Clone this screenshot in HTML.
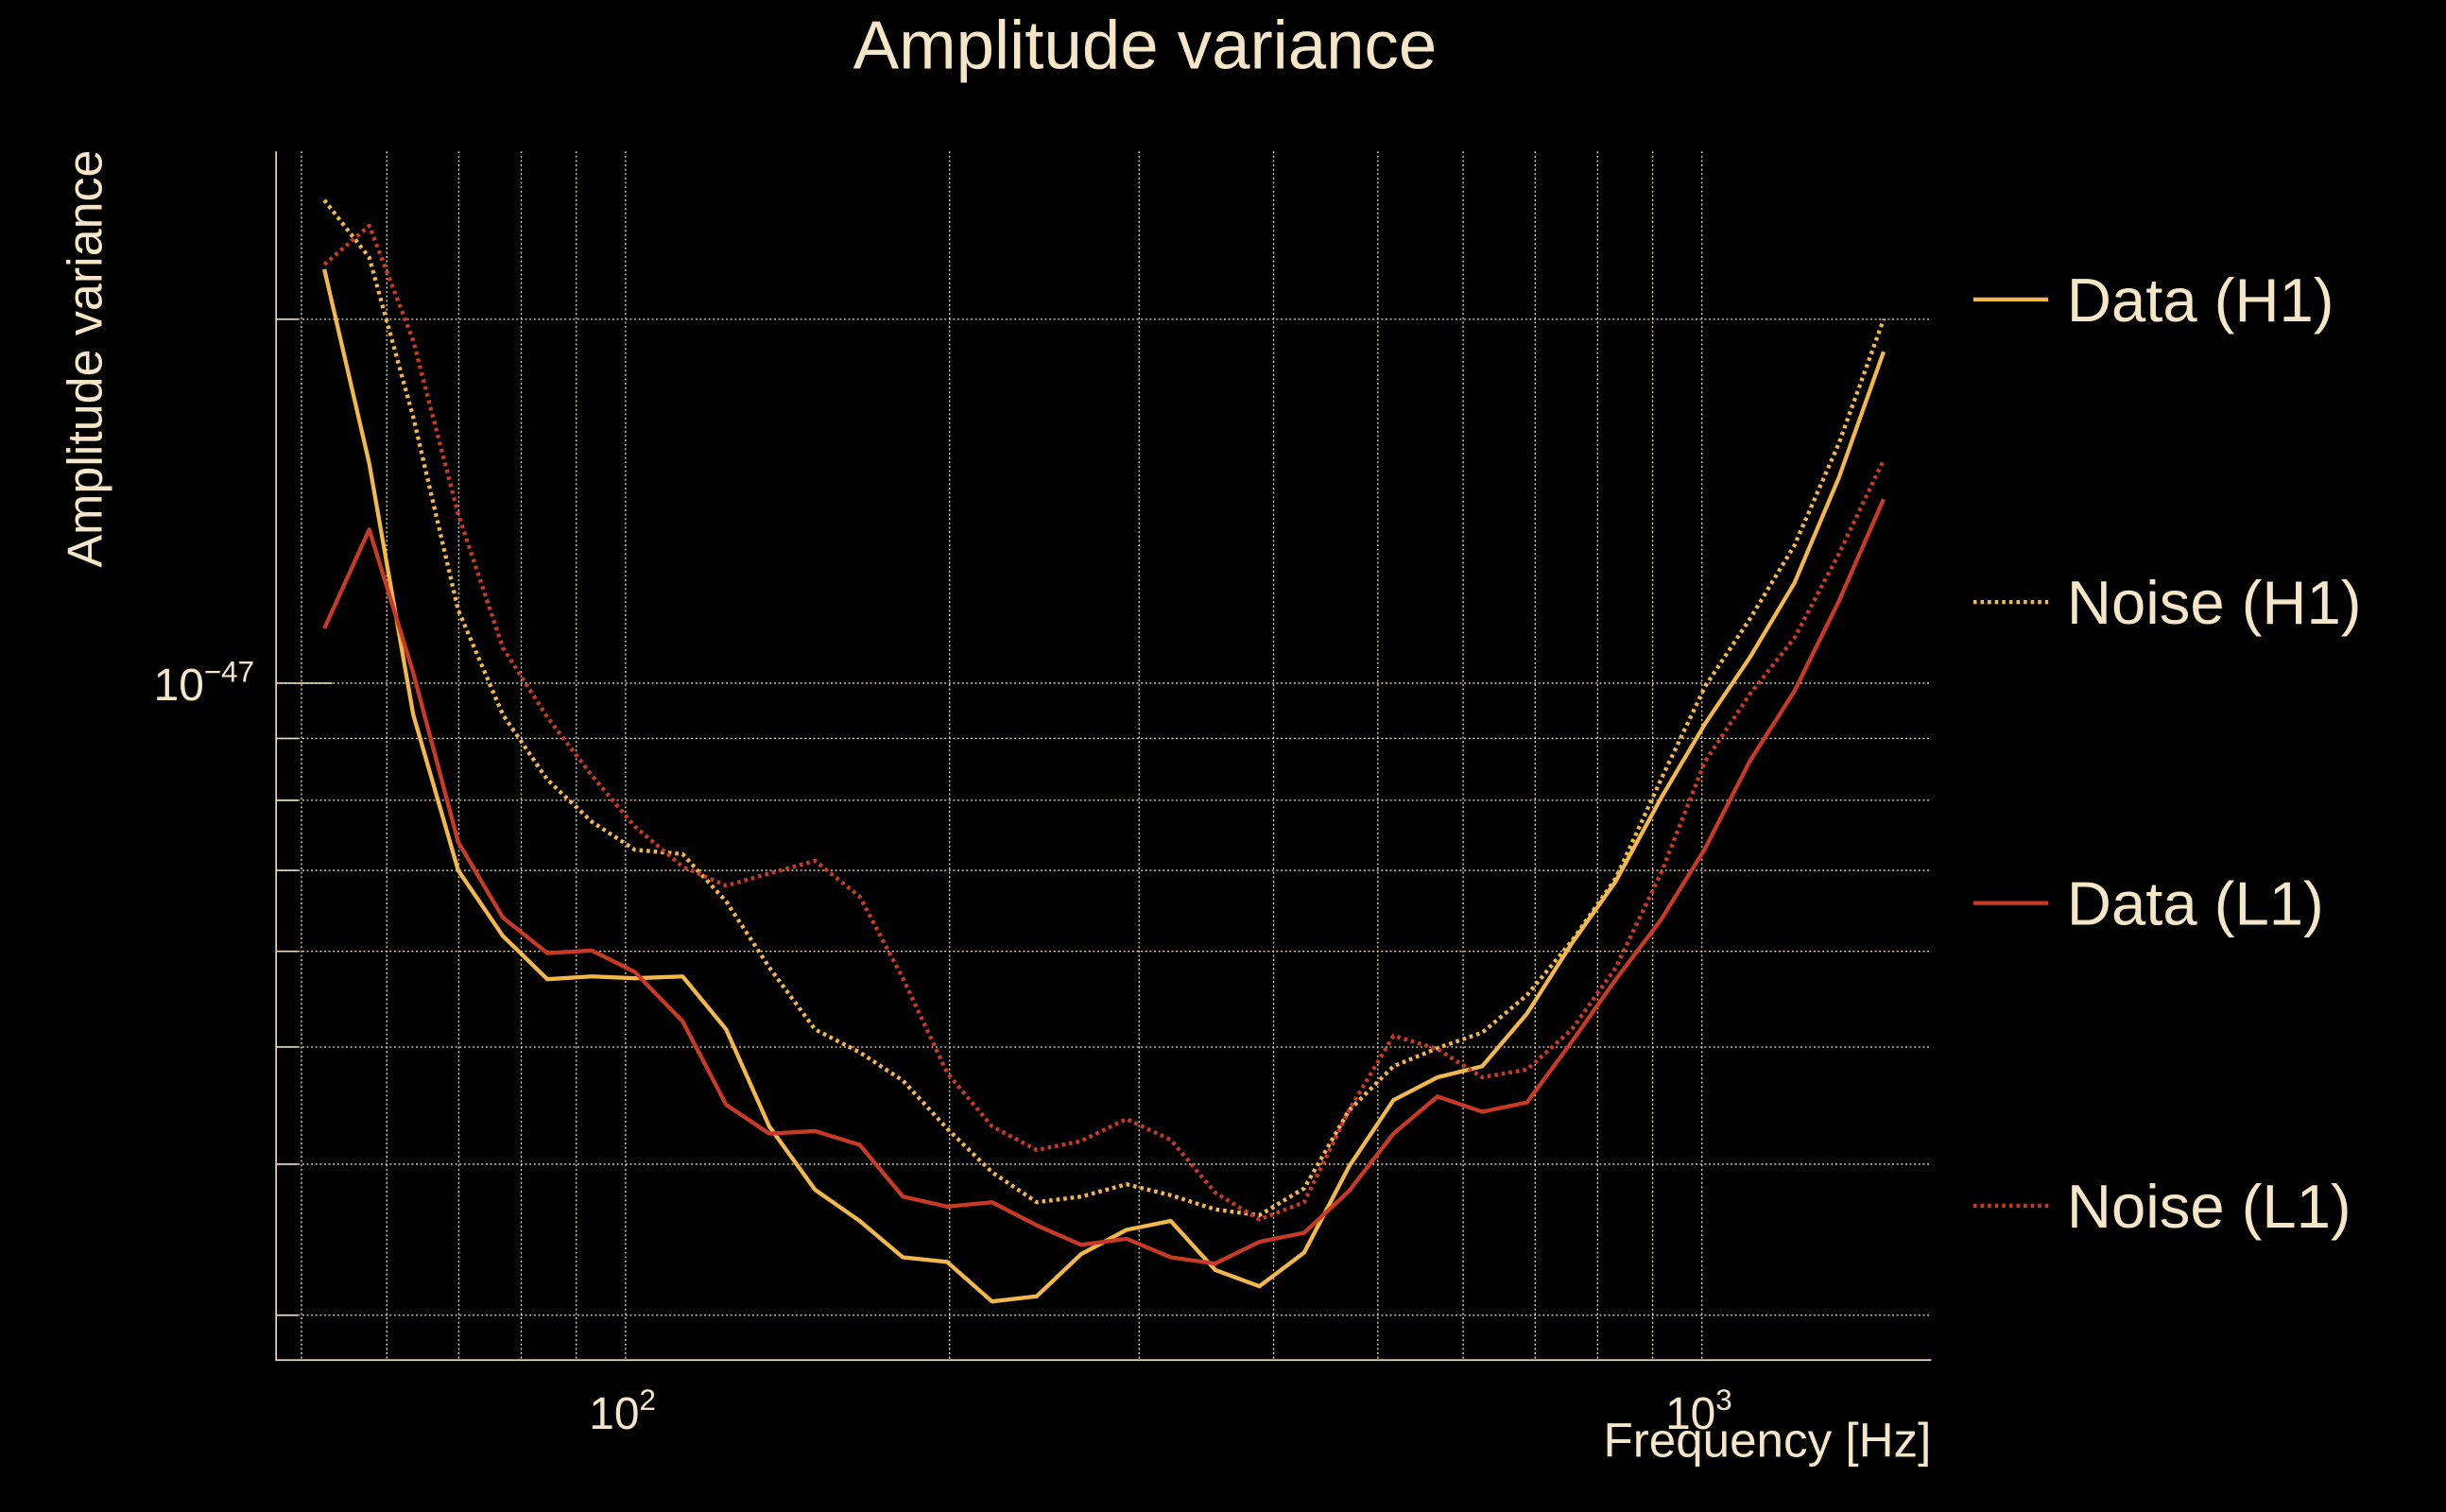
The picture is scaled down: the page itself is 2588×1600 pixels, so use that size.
<!DOCTYPE html>
<html><head><meta charset="utf-8"><style>
html,body{margin:0;padding:0;background:#000;}
svg{display:block;}
text{font-family:"Liberation Sans",sans-serif;fill:#f5e6c8;}
</style></head><body>
<svg id="chart" width="2588" height="1600" viewBox="0 0 1568 969.4" preserveAspectRatio="none" xmlns="http://www.w3.org/2000/svg">
<rect x="0" y="0" width="1568" height="970" fill="#000"/>
<text x="734" y="44" font-size="44" text-anchor="middle">Amplitude variance</text>
<text transform="translate(65,230) rotate(-90)" font-size="31.5" text-anchor="middle">Amplitude variance</text>
<text x="1238" y="934" font-size="31" text-anchor="end">Frequency [Hz]</text>
<g id="grid"></g>
<g id="axes"></g>
<g id="series"></g>
<g id="legend"></g>
</svg>
<script>
const frequencies=[52.5,57.8,63.5,69.9,76.9,84.6,93,102,113,124,136,150,165,181,199,219,241,265,292,321,353,388,427,470,517,568,625,688,757,832,916,1007,1108,1219,1341,1475];
// values in units of 1e-48
const dataH1=[22.0,15.2,9.42,7.00,6.18,5.69,5.72,5.70,5.72,5.17,4.30,3.81,3.59,3.35,3.32,3.08,3.11,3.37,3.53,3.59,3.27,3.17,3.38,3.98,4.52,4.72,4.82,5.33,6.09,6.86,8.03,9.26,10.5,12.1,14.8,18.8];
const noiseH1=[25.1,22.5,16.6,11.5,9.42,8.32,7.68,7.28,7.22,6.60,5.82,5.17,4.95,4.69,4.28,3.94,3.72,3.76,3.85,3.77,3.67,3.63,3.82,4.43,4.82,4.99,5.14,5.52,6.12,6.90,8.32,9.94,11.3,13.0,15.8,20.0];
const dataL1=[11.1,13.4,10.2,7.39,6.40,5.98,6.01,5.77,5.25,4.48,4.24,4.26,4.15,3.76,3.69,3.72,3.56,3.43,3.47,3.35,3.31,3.45,3.51,3.80,4.24,4.55,4.42,4.50,5.05,5.69,6.37,7.30,8.62,9.85,11.7,14.2];
const noiseL1=[22.2,23.9,19.2,13.8,10.7,9.37,8.39,7.61,7.05,6.80,6.96,7.13,6.66,5.70,4.76,4.30,4.11,4.18,4.36,4.19,3.79,3.60,3.72,4.43,5.11,4.98,4.72,4.79,5.17,5.82,6.96,8.62,9.79,10.9,12.8,15.3];
const xGridFreqs=[50,60,70,80,90,100,200,300,400,500,600,700,800,900,1000];
const yGridVals=[3,4,5,6,7,8,9,10,20];
const seriesNames=["Data (H1)","Noise (H1)","Data (L1)","Noise (L1)"];

const NS="http://www.w3.org/2000/svg";
const X0=177,X1=1238,Y0=97,Y1=872;
function xs(f){return 401+690*(Math.log10(f)-2);}
function ys(v){return 438-775*Math.log10(v/10);}
function mk(tag,attrs,parent){const e=document.createElementNS(NS,tag);for(const k in attrs)e.setAttribute(k,attrs[k]);parent.appendChild(e);return e;}
const grid=document.getElementById('grid'),axes=document.getElementById('axes'),ser=document.getElementById('series'),leg=document.getElementById('legend');

xGridFreqs.forEach(f=>{
  const l=mk('line',{x1:xs(f),x2:xs(f),y1:Y0,y2:Y1,stroke:'#e8dcc0','stroke-width':0.8,'stroke-dasharray':'1.2,1.6'},grid);
  
  
});
yGridVals.forEach(v=>{
  const l=mk('line',{x1:X0,x2:X1,y1:ys(v),y2:ys(v),stroke:'#e8dcc0','stroke-width':0.8,'stroke-dasharray':'1.2,1.6'},grid);
  
  
  const t=mk('line',{x1:X0,x2:X0+(v===10?36:14),y1:ys(v),y2:ys(v),stroke:'#e8dcc0','stroke-width':1},axes);
  
  
});
const ax=mk('path',{d:`M${X0},${Y0}V${Y1}H${X1}`,fill:'none',stroke:'#e8dcc0','stroke-width':1},axes);



function supLabel(x,y,base,exp,anchor,name){
  const t=mk('text',{x:x,y:y,'font-size':29,'text-anchor':anchor},axes);
  
  
  const b=mk('tspan',{},t);b.textContent=base;
  const e=mk('tspan',{dy:-12,'font-size':19},t);e.textContent=exp;
}
supLabel(163,ys(10)+11,'10','\u221247','end','y-tick-label-1e-47');
supLabel(xs(100)-2,916,'10','2','middle','x-tick-label-100');
supLabel(xs(1000)-2,916,'10','3','middle','x-tick-label-1000');

const colors=['#f2b84b','#f2b84b','#c93a26','#c93a26'];
const dashes=[null,'2.2,2.4',null,'2.2,2.4'];
const allSeries=[dataH1,noiseH1,dataL1,noiseL1];
const sNames=['data-h1-line','noise-h1-line','data-l1-line','noise-l1-line'];
allSeries.forEach((arr,k)=>{
  const d=arr.map((v,i)=>(i?'L':'M')+xs(frequencies[i]).toFixed(1)+','+ys(v).toFixed(1)).join('');
  const a={d:d,fill:'none',stroke:colors[k],'stroke-width':2.6,'stroke-linejoin':'round'};
  if(dashes[k])a['stroke-dasharray']=dashes[k];
  const p=mk('path',a,ser);
  
  
});
const legY=[192,386,579,773];
seriesNames.forEach((n,k)=>{
  const g=mk('g',{},leg);
  
  
  const a={x1:1265,x2:1313,y1:legY[k],y2:legY[k],stroke:colors[k],'stroke-width':2.6};
  if(dashes[k])a['stroke-dasharray']=dashes[k];
  mk('line',a,g);
  const t=mk('text',{x:1325,y:legY[k]+14,'font-size':39.5},g);
  t.textContent=n;
});
</script>
</body></html>
